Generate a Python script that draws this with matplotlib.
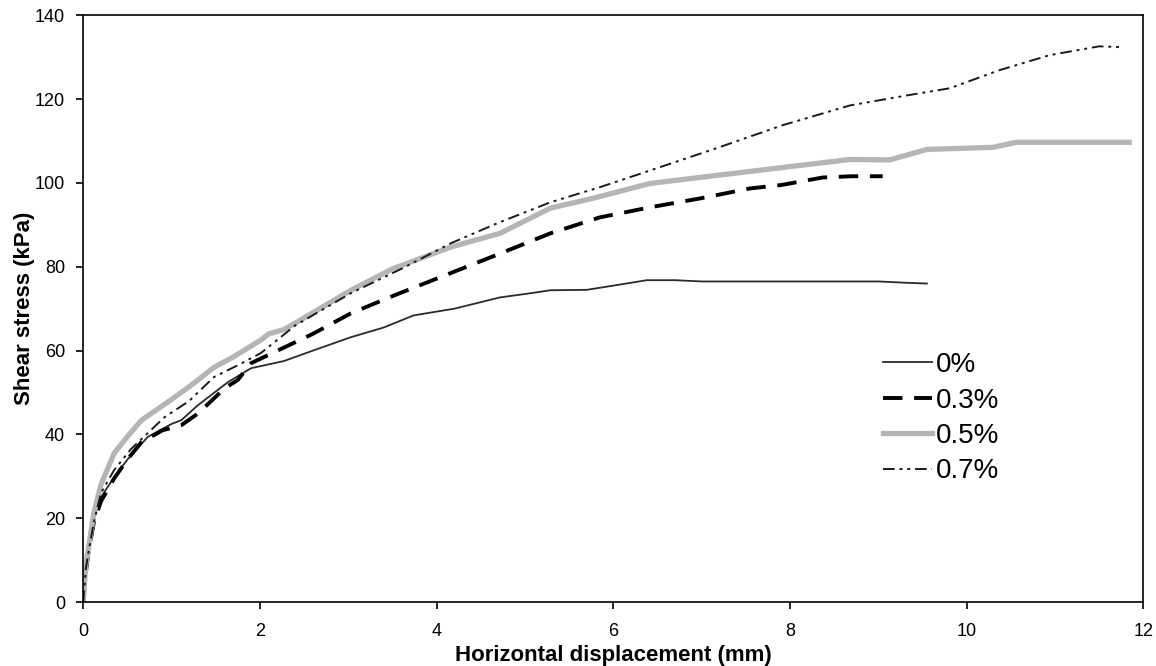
import matplotlib
matplotlib.use("Agg")
import matplotlib.pyplot as plt

plt.rcParams['font.family'] = ['Liberation Sans', 'DejaVu Sans']

# fibre content 0%
x0 = [0, 0.03, 0.06, 0.12, 0.2, 0.35, 0.5, 0.73, 1.0, 1.11, 1.3, 1.64, 1.9, 2.27, 2.6,
      3.03, 3.4, 3.74, 4.2, 4.72, 5.0, 5.29, 5.7, 6.0, 6.38, 6.7, 7.0, 8.0, 9.0, 9.3, 9.55]
y0 = [0, 8, 13, 20, 25, 29.8, 34, 39.4, 42.5, 43.4, 47, 52.5, 55.8, 57.5, 60,
      63.2, 65.5, 68.4, 70, 72.7, 73.5, 74.4, 74.5, 75.5, 76.8, 76.8, 76.5, 76.5, 76.5, 76.2, 76]

# 0.3%
x3 = [0, 0.03, 0.06, 0.12, 0.2, 0.35, 0.5, 0.66, 0.9, 1.11, 1.3, 1.6, 1.75, 1.9, 2.2,
      2.6, 3.03, 3.5, 4.16, 4.7, 5.29, 5.85, 6.42, 6.98, 7.55, 7.9, 8.37, 8.7, 9.05]
y3 = [0, 7, 12, 19, 24, 29.5, 34, 38.2, 41, 42.2, 45, 51, 53, 57, 60,
      64, 68.9, 73, 78.5, 83, 88, 91.8, 94.2, 96.3, 98.7, 99.5, 101.3, 101.6, 101.6]

# 0.5%
x5 = [0, 0.03, 0.06, 0.12, 0.2, 0.35, 0.5, 0.66, 0.99, 1.22, 1.48, 1.7, 2.01, 2.1, 2.27,
      2.46, 3.03, 3.5, 4.16, 4.72, 5.29, 5.8, 6.42, 7.17, 7.92, 8.68, 9.13, 9.55, 10.3,
      10.56, 11.2, 11.84]
y5 = [0, 9, 13, 21.2, 28, 35.5, 39.5, 43.4, 48.2, 51.7, 56, 58.5, 62.5, 64, 65,
      67.3, 74.4, 79.5, 84.7, 88, 94, 96.5, 99.9, 101.8, 103.7, 105.6, 105.5, 108, 108.5,
      109.7, 109.7, 109.7]

# 0.7%
x7 = [0, 0.03, 0.06, 0.12, 0.2, 0.35, 0.54, 0.92, 1.2, 1.48, 1.75, 2.01, 2.4, 3.03,
      3.6, 4.16, 4.7, 5.29, 5.85, 6.42, 7.17, 7.92, 8.68, 9.3, 9.81, 10.37, 10.94,
      11.5, 11.76]
y7 = [0, 8, 12, 19, 26, 31.5, 36.5, 44.1, 48, 53.7, 56.5, 59.4, 66, 73.7,
      79.5, 85.6, 90.5, 95.4, 99, 103, 108.3, 113.8, 118.5, 120.8, 122.6, 126.9, 130.5,
      132.6, 132.4]

fig = plt.figure(figsize=(11.56, 6.66), dpi=100)
ax = fig.add_axes([0.072, 0.096, 0.917, 0.881])

ax.plot(x0, y0, color='#2a2a2a', lw=1.3, label='0%')
ax.plot(x3, y3, color='black', lw=2.8, dashes=(5, 3), label='0.3%')
ax.plot(x5, y5, color='#b5b5b5', lw=3.8, label='0.5%')
ax.plot(x7, y7, color='#1a1a1a', lw=1.4, dashes=(6, 2.5, 1.5, 2.5, 1.5, 2.5), label='0.7%')

ax.set_xlim(0, 12)
ax.set_ylim(0, 140)
ax.set_xticks(range(0, 13, 2))
ax.set_yticks(range(0, 141, 20))
ax.tick_params(labelsize=13, direction='out', length=5, width=1.2)
ax.tick_params(axis='x', pad=10)
ax.tick_params(axis='y', pad=8)
for s in ax.spines.values():
    s.set_linewidth(1.2)

ax.set_xlabel('Horizontal displacement (mm)', fontsize=16, fontweight='bold', labelpad=4)
ax.set_ylabel('Shear stress (kPa)', fontsize=16, fontweight='bold', labelpad=0)

ax.legend(loc='upper left', bbox_to_anchor=(0.744, 0.445), frameon=False, fontsize=20,
          handlelength=1.75, handletextpad=0.15, labelspacing=0.34, borderaxespad=0)

fig.savefig('out.png', dpi=100)
